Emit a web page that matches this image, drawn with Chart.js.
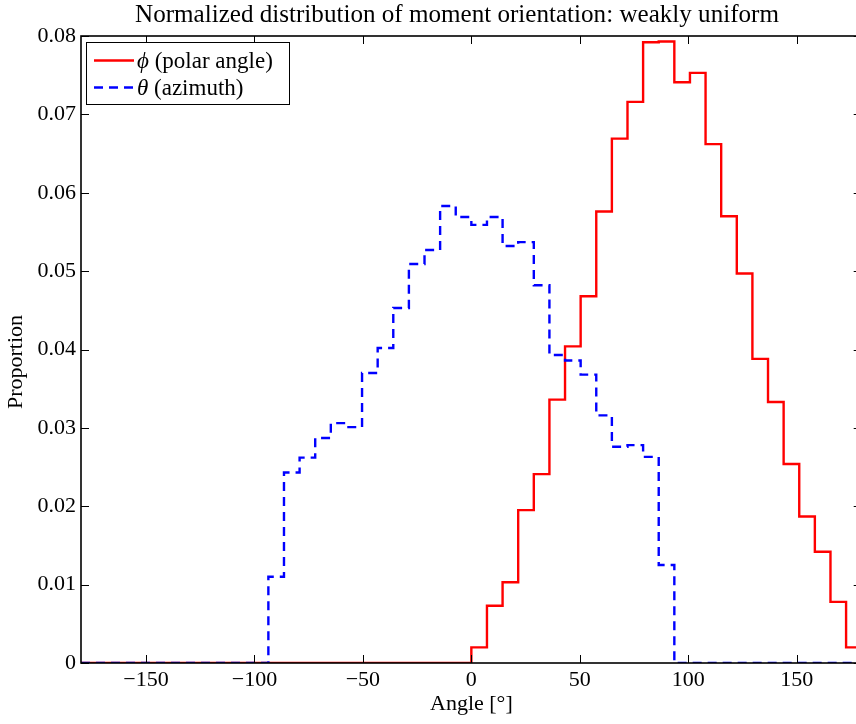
<!DOCTYPE html>
<html><head><meta charset="utf-8">
<script src="https://cdn.jsdelivr.net/npm/chart.js@4/dist/chart.umd.min.js"></script>
<style>html,body{margin:0;padding:0;overflow:hidden;background:#fff;width:856px;height:724px}canvas{display:block}</style>
</head><body>
<canvas id="c" width="870" height="724"></canvas>
<script>
const chartTitle = 'Normalized distribution of moment orientation: weakly uniform';
const xAxisLabel = 'Angle [°]';
const yAxisLabel = 'Proportion';
const seriesSymbols = ['ϕ', 'θ'];
const seriesNames = ['(polar angle)', '(azimuth)'];

// histogram bin edges (degrees)
const binEdges = [-180, -172.8, -165.6, -158.4, -151.2, -144, -136.8, -129.6, -122.4, -115.2,
  -108, -100.8, -93.6, -86.4, -79.2, -72, -64.8, -57.6, -50.4, -43.2,
  -36, -28.8, -21.6, -14.4, -7.2, 0, 7.2, 14.4, 21.6, 28.8,
  36, 43.2, 50.4, 57.6, 64.8, 72, 79.2, 86.4, 93.6, 100.8,
  108, 115.2, 122.4, 129.6, 136.8, 144, 151.2, 158.4, 165.6, 172.8, 180];

// phi (polar angle) proportion per bin
const phiValues = [0, 0, 0, 0, 0, 0, 0, 0, 0, 0,
  0, 0, 0, 0, 0, 0, 0, 0, 0, 0,
  0, 0, 0, 0, 0, 0.0020, 0.0073, 0.0103, 0.0195, 0.0241,
  0.0336, 0.0404, 0.0468, 0.0576, 0.0669, 0.0716, 0.0792, 0.0793, 0.0741, 0.0753,
  0.0662, 0.0570, 0.0497, 0.0388, 0.0333, 0.0254, 0.0187, 0.0142, 0.0078, 0.0020];

// theta (azimuth) proportion per bin
const thetaValues = [0, 0, 0, 0, 0, 0, 0, 0, 0, 0,
  0, 0, 0.0110, 0.0243, 0.0262, 0.0287, 0.0306, 0.0301, 0.0370, 0.0402,
  0.0453, 0.0509, 0.0527, 0.0583, 0.0569, 0.0559, 0.0569, 0.0532, 0.0537, 0.0482,
  0.0393, 0.0386, 0.0368, 0.0316, 0.0276, 0.0278, 0.0263, 0.0125, 0, 0,
  0, 0, 0, 0, 0, 0, 0, 0, 0, 0];

const xTicks = [-150, -100, -50, 0, 50, 100, 150];
const xTickLabels = ['\u2212150', '\u2212100', '\u221250', '0', '50', '100', '150'];
const yTicks = [0, 0.01, 0.02, 0.03, 0.04, 0.05, 0.06, 0.07, 0.08];
const yTickLabels = ['0', '0.01', '0.02', '0.03', '0.04', '0.05', '0.06', '0.07', '0.08'];

const FONT = '"Liberation Serif", "Times New Roman", serif';
const RED = '#ff0000', BLUE = '#0000ff';
const LW = 2.4;

function toSteps(values) {
  return binEdges.map((x, i) => ({ x: x, y: values[Math.min(i, values.length - 1)] }));
}

const framePlugin = {
  id: 'frame',
  afterDatasetsDraw(chart) {
    const { ctx, chartArea: a, scales } = chart;
    ctx.save();
    ctx.strokeStyle = '#000';
    ctx.lineWidth = 1;
    const T = 8;
    ctx.beginPath();
    scales.x.ticks.forEach(t => {
      const px = Math.round(scales.x.getPixelForValue(t.value)) + 0.5;
      ctx.moveTo(px, a.bottom); ctx.lineTo(px, a.bottom - T);
      ctx.moveTo(px, a.top); ctx.lineTo(px, a.top + T);
    });
    scales.y.ticks.forEach(t => {
      const py = Math.round(scales.y.getPixelForValue(t.value)) + 0.5;
      ctx.moveTo(a.left, py); ctx.lineTo(a.left + T, py);
      ctx.moveTo(a.right, py); ctx.lineTo(a.right - T, py);
    });
    ctx.stroke();
    ctx.lineWidth = 1.6;
    ctx.strokeRect(a.left, a.top, a.right - a.left, a.bottom - a.top);
    ctx.restore();
  },
  afterDraw(chart) {
    const { ctx } = chart;
    ctx.save();
    ctx.fillStyle = '#000';
    // title
    ctx.font = '24px ' + FONT;
    let w = ctx.measureText(chartTitle).width;
    const ts = 24 * 644 / w;
    ctx.font = ts.toFixed(2) + 'px ' + FONT;
    ctx.textAlign = 'center';
    ctx.textBaseline = 'alphabetic';
    ctx.fillText(chartTitle, 457, 22);
    // y label
    ctx.save();
    ctx.translate(16, 362);
    ctx.rotate(-Math.PI / 2);
    ctx.font = '22px ' + FONT;
    ctx.textAlign = 'center';
    ctx.textBaseline = 'middle';
    ctx.fillText(yAxisLabel, 0, 0);
    ctx.restore();
    // legend
    const bx = 86.5, by = 42.5, bw = 203, bh = 62;
    ctx.fillStyle = '#fff';
    ctx.fillRect(bx, by, bw, bh);
    ctx.strokeStyle = '#000';
    ctx.lineWidth = 1;
    ctx.strokeRect(bx, by, bw, bh);
    const rows = [{ y: 60.5, color: RED, dash: [] }, { y: 87.5, color: BLUE, dash: [9, 6] }];
    rows.forEach((r, i) => {
      ctx.strokeStyle = r.color;
      ctx.lineWidth = LW;
      ctx.setLineDash(r.dash);
      ctx.beginPath();
      ctx.moveTo(94, r.y); ctx.lineTo(134, r.y);
      ctx.stroke();
      ctx.setLineDash([]);
      ctx.fillStyle = '#000';
      ctx.textAlign = 'left';
      ctx.textBaseline = 'alphabetic';
      ctx.font = 'italic 23px ' + FONT;
      ctx.fillText(seriesSymbols[i], 137, r.y + 7);
      const sw = ctx.measureText(seriesSymbols[i] + ' ').width;
      ctx.font = '23px ' + FONT;
      ctx.fillText(seriesNames[i], 137 + sw, r.y + 7);
    });
    ctx.restore();
  }
};

new Chart(document.getElementById('c'), {
  type: 'line',
  data: {
    datasets: [
      { label: 'ϕ (polar angle)', data: toSteps(phiValues), borderColor: RED, borderWidth: LW,
        stepped: 'before', pointRadius: 0, fill: false, order: 1 },
      { label: 'θ (azimuth)', data: toSteps(thetaValues), borderColor: BLUE, borderWidth: LW,
        borderDash: [9, 6], stepped: 'before', pointRadius: 0, fill: false, order: 0 }
    ]
  },
  options: {
    responsive: false,
    animation: false,
    devicePixelRatio: 1,
    layout: { padding: { top: 36, right: 8.3, left: 0, bottom: 0 } },
    plugins: { legend: { display: false }, tooltip: { enabled: false }, title: { display: false } },
    scales: {
      x: {
        type: 'linear', min: -180, max: 180,
        afterBuildTicks: s => { s.ticks = xTicks.map(v => ({ value: v })); },
        afterFit: s => { s.height = 61; },
        grid: { display: false, drawTicks: false },
        border: { display: false },
        ticks: { callback: (v, i) => xTickLabels[i], font: { family: FONT, size: 22 }, color: '#000',
          padding: 4, maxRotation: 0, autoSkip: false },
        title: { display: true, text: xAxisLabel, font: { family: FONT, size: 22 }, color: '#000',
          padding: { top: 0, bottom: 7 } }
      },
      y: {
        type: 'linear', min: 0, max: 0.08,
        afterBuildTicks: s => { s.ticks = yTicks.map(v => ({ value: v })); },
        afterFit: s => { s.width = 81; },
        grid: { display: false, drawTicks: false },
        border: { display: false },
        ticks: { callback: (v, i) => yTickLabels[i], font: { family: FONT, size: 22 }, color: '#000',
          padding: 5, autoSkip: false }
      }
    }
  },
  plugins: [framePlugin]
});
</script>
</body></html>
